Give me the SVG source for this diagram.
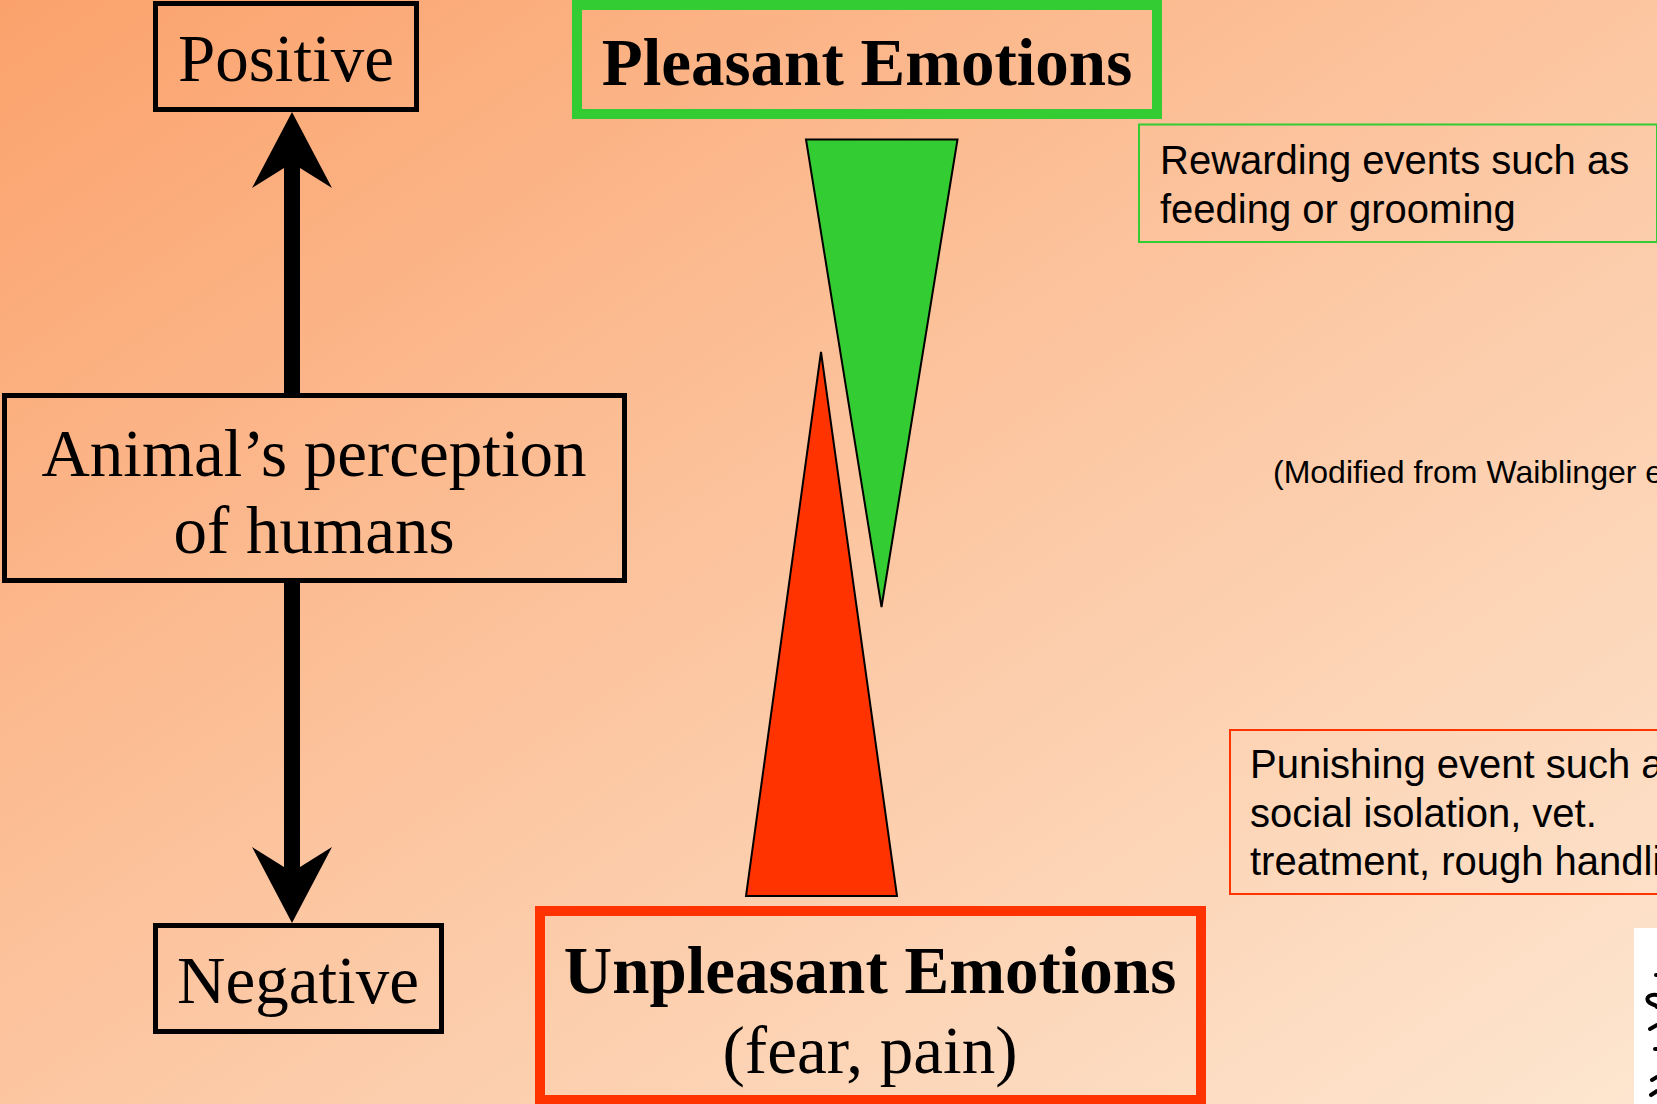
<svg xmlns="http://www.w3.org/2000/svg" width="1657" height="1104" viewBox="0 0 1657 1104">
<defs>
<linearGradient id="bg" x1="0" y1="0" x2="1" y2="1">
<stop offset="0" stop-color="#FBA26C"/>
<stop offset="0.5" stop-color="#FCC6A1"/>
<stop offset="1" stop-color="#FDE6D0"/>
</linearGradient>
<marker id="head" markerUnits="userSpaceOnUse" markerWidth="76" markerHeight="80" viewBox="0 0 76 80" refX="25" refY="40" orient="auto">
<path d="M0,0 L76,40 L0,80 L25,40 Z" fill="#000"/>
</marker>
<style>
.serif{font-family:"Liberation Serif","Times New Roman",serif;font-size:67px;fill:#000;text-anchor:middle}
.bold{font-weight:bold}
.sans{font-family:"Liberation Sans",Arial,sans-serif;font-size:40px;fill:#000}
.blk{fill:none;stroke:#000;stroke-width:5}
.shaft{stroke:#000;stroke-width:16;fill:none}
</style>
</defs>
<rect x="0" y="0" width="1657" height="1104" fill="url(#bg)"/>

<g id="connectors">
<line class="shaft" x1="292" y1="394" x2="292" y2="163" marker-end="url(#head)"/>
<line class="shaft" x1="292" y1="581" x2="292" y2="872" marker-end="url(#head)"/>
</g>

<g id="positive">
<rect class="blk" x="155.5" y="3.5" width="261" height="106"/>
<text class="serif" x="286" y="81">Positive</text>
</g>

<g id="perception">
<rect class="blk" x="4.5" y="395.5" width="620" height="185"/>
<text class="serif" x="314" y="476">Animal’s perception</text>
<text class="serif" x="314" y="553">of humans</text>
</g>

<g id="negative">
<rect class="blk" x="155.5" y="925.5" width="286" height="106"/>
<text class="serif" x="298" y="1003">Negative</text>
</g>

<g id="pleasant">
<rect x="577" y="5" width="580" height="109" fill="none" stroke="#33CC33" stroke-width="10"/>
<text class="serif bold" x="867" y="85">Pleasant Emotions</text>
</g>

<g id="green-triangle">
<polygon points="806,139.5 957.5,139.5 881.5,607" fill="#33CC33" stroke="#000" stroke-width="2"/>
</g>

<g id="red-triangle">
<polygon points="821,352 897,896 746,896" fill="#FF3300" stroke="#000" stroke-width="2"/>
</g>

<g id="unpleasant">
<rect x="540" y="911" width="661" height="189" fill="none" stroke="#FF3300" stroke-width="10"/>
<text class="serif bold" x="870" y="993">Unpleasant Emotions</text>
<text class="serif" x="870" y="1073">(fear, pain)</text>
</g>

<g id="rewarding">
<rect x="1139" y="124.5" width="518" height="117.5" fill="none" stroke="#33CC33" stroke-width="2"/>
<text class="sans" x="1160" y="174">Rewarding events such as</text>
<text class="sans" x="1160" y="223">feeding or grooming</text>
</g>

<g id="citation">
<text class="sans" x="1273" y="483" style="font-size:32px">(Modified from Waiblinger e</text>
</g>

<g id="punishing">
<rect x="1230" y="730" width="430" height="164" fill="none" stroke="#FF3300" stroke-width="2"/>
<text class="sans" x="1250" y="778">Punishing event such a</text>
<text class="sans" x="1250" y="827">social isolation, vet.</text>
<text class="sans" x="1250" y="875">treatment, rough handli</text>
</g>

<g id="picture-fragment">
<rect x="1634" y="928" width="23" height="176" fill="#fff"/>
<g fill="none" stroke="#000" stroke-width="4" stroke-linecap="round">
<path d="M1656,975 l1,0"/>
<path d="M1657,995 C1650,994 1646,997 1648,1001 C1650,1005 1656,1004 1657,1007"/>
<path d="M1650,1029 L1657,1025"/>
<path d="M1655,1049 l2,0"/>
<path d="M1652,1080 L1657,1077"/>
<path d="M1651,1095 L1657,1091"/>
</g>
</g>
</svg>
